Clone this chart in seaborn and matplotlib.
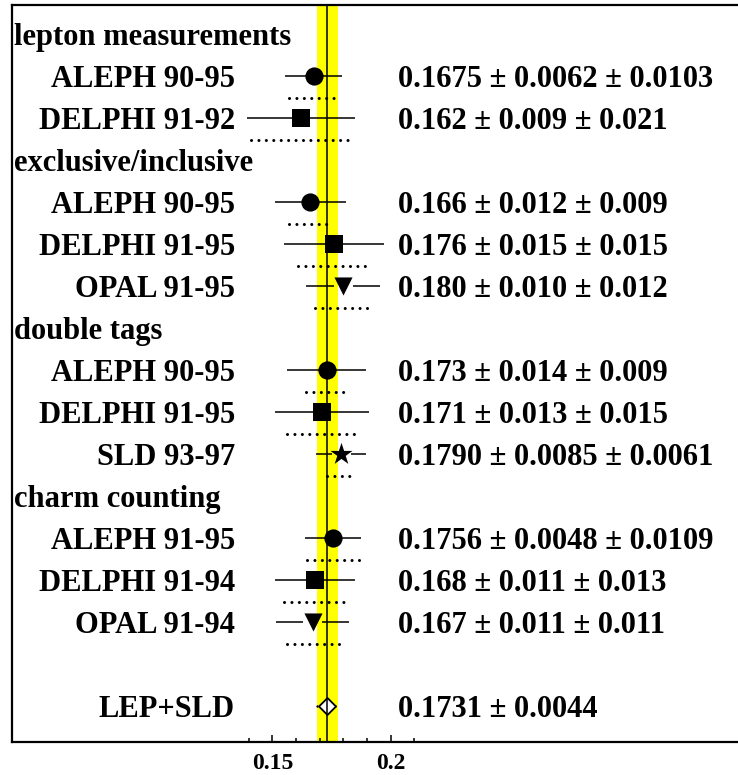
import numpy as np
import pandas as pd
import matplotlib
matplotlib.use("Agg")
import matplotlib.pyplot as plt
import seaborn as sns
from matplotlib.transforms import blended_transform_factory

# ---- data -----------------------------------------------------------------
groups = ["lepton measurements", "exclusive/inclusive", "double tags", "charm counting"]
group_sizes = [2, 3, 3, 3]
experiments = ["ALEPH 90-95", "DELPHI 91-92",
               "ALEPH 90-95", "DELPHI 91-95", "OPAL 91-95",
               "ALEPH 90-95", "DELPHI 91-95", "SLD 93-97",
               "ALEPH 91-95", "DELPHI 91-94", "OPAL 91-94"]
rc_values = ["0.1675", "0.162", "0.166", "0.176", "0.180", "0.173",
             "0.171", "0.1790", "0.1756", "0.168", "0.167"]
stat_errors = ["0.0062", "0.009", "0.012", "0.015", "0.010", "0.014",
               "0.013", "0.0085", "0.0048", "0.011", "0.011"]
syst_errors = ["0.0103", "0.021", "0.009", "0.015", "0.012", "0.009",
               "0.015", "0.0061", "0.0109", "0.013", "0.011"]
average_label = "LEP+SLD"
average_value = "0.1731"
average_error = "0.0044"
major_ticks = [0.15, 0.2]
major_tick_labels = ["0.15", "0.2"]
minor_ticks = [0.14, 0.16, 0.17, 0.18, 0.19, 0.21]

# ---- styling --------------------------------------------------------------
sns.set_style("white")
plt.rcParams["font.family"] = ["Liberation Serif", "DejaVu Serif"]
plt.rcParams["font.weight"] = "bold"
plt.rcParams["text.color"] = "black"
plt.rcParams["xtick.color"] = "black"
plt.rcParams["axes.edgecolor"] = "black"

marker_of = {"ALEPH": "o", "DELPHI": "s", "OPAL": "v", "SLD": "*"}
size_of = {"o": 172, "s": 182, "v": 170, "*": 280}
gap_of = {"o": 0.0, "s": 0.0, "v": 0.0040, "*": 0.0040}

LABEL_SIZE = 22
ROW_STEP_SYS = 0.524  # systematic bar sits half a row below the point

# ---- row layout -------------------------------------------------------------
rows = []
header_rows = []
r = 0
for g, n in zip(groups, group_sizes):
    header_rows.append((r, g))
    r += 1
    for _ in range(n):
        rows.append(r)
        r += 1
avg_row = r + 1

df = pd.DataFrame({
    "experiment": experiments,
    "value": [float(v) for v in rc_values],
    "stat": [float(v) for v in stat_errors],
    "syst": [float(v) for v in syst_errors],
    "row": rows,
})
df["marker"] = df["experiment"].str.split().str[0].map(marker_of)
df["total"] = np.hypot(df["stat"], df["syst"])

avg = float(average_value)
avg_err = float(average_error)

# ---- figure -----------------------------------------------------------------
# the frame runs on past the right edge of the canvas
fig = plt.figure(figsize=(7.38, 7.75), dpi=100)
AX_W_PX = 800.0
ax = fig.add_axes([12 / 738, 33 / 775, AX_W_PX / 738, 737 / 775])
x_left = 0.04
x_right = x_left + 0.31 * AX_W_PX / 733.9

ax.axvspan(avg - avg_err, avg + avg_err, color="#ffff00", lw=0, zorder=0)
ax.axvline(avg, color="black", lw=1.1, zorder=6)

dotted = (0, (0.01, 2.42))

# total error bars (split around outline-free markers)
for _, d in df.iterrows():
    gap = gap_of[d["marker"]]
    ax.plot([d["value"] - d["total"], d["value"] - gap], [d["row"]] * 2,
            color="black", lw=1.1, solid_capstyle="butt", zorder=2)
    ax.plot([d["value"] + gap, d["value"] + d["total"]], [d["row"]] * 2,
            color="black", lw=1.1, solid_capstyle="butt", zorder=2)
    # systematic component, dotted below the point
    ax.plot([d["value"] - d["syst"], d["value"] + d["syst"]],
            [d["row"] + ROW_STEP_SYS] * 2, color="black", lw=2.2,
            linestyle=dotted, dash_capstyle="round", zorder=2)

for m, sub in df.groupby("marker"):
    sns.scatterplot(data=sub, x="value", y="row", marker=m, s=size_of[m],
                    color="black", linewidth=0, ax=ax, zorder=4, legend=False)

# combined result
ax.plot([avg - avg_err, avg + avg_err], [avg_row] * 2, color="black", lw=1.8,
        linestyle=(0, (0.01, 3.6)), dash_capstyle="round", zorder=3)
sns.scatterplot(x=[avg], y=[avg_row], marker="D", s=75, facecolor="white",
                edgecolor="black", linewidth=1.3, ax=ax, zorder=5, legend=False)

# ---- axes -------------------------------------------------------------------
ax.set_xlim(x_left, x_right)
ax.set_ylim(16.864, -0.683)
ax.set_xlabel("")
ax.set_ylabel("")
ax.set_yticks([])
ax.set_xticks(major_ticks)
ax.set_xticklabels(major_tick_labels, fontsize=17, fontweight="bold")
ax.set_xticks(minor_ticks, minor=True)
ax.tick_params(axis="x", which="major", direction="in", length=5.2, width=1.1,
               pad=8, bottom=True, top=False, colors="black")
ax.tick_params(axis="x", which="minor", direction="in", length=3.0, width=1.1,
               bottom=True, top=False)
for side in ["left", "top", "bottom"]:
    ax.spines[side].set_color("black")
    ax.spines[side].set_linewidth(1.6)
ax.spines["right"].set_visible(False)

# ---- text -------------------------------------------------------------------
tr = blended_transform_factory(ax.transAxes, ax.transData)
ax_frac = 733.9 / AX_W_PX
txt = dict(transform=tr, va="center_baseline", fontsize=LABEL_SIZE,
           fontweight="bold", color="black")
for row, g in header_rows:
    ax.text(0.003 * ax_frac, row, g, ha="left", **txt)
for i, d in df.iterrows():
    ax.text(0.304 * ax_frac, d["row"], d["experiment"], ha="right", **txt)
    ax.text(0.526 * ax_frac, d["row"],
            f"{rc_values[i]} \u00b1 {stat_errors[i]} \u00b1 {syst_errors[i]}",
            ha="left", **txt)
ax.text(0.304 * ax_frac, avg_row, average_label, ha="right", **txt)
ax.text(0.526 * ax_frac, avg_row, f"{average_value} \u00b1 {average_error}",
        ha="left", **txt)

fig.savefig("out.png", dpi=100)
